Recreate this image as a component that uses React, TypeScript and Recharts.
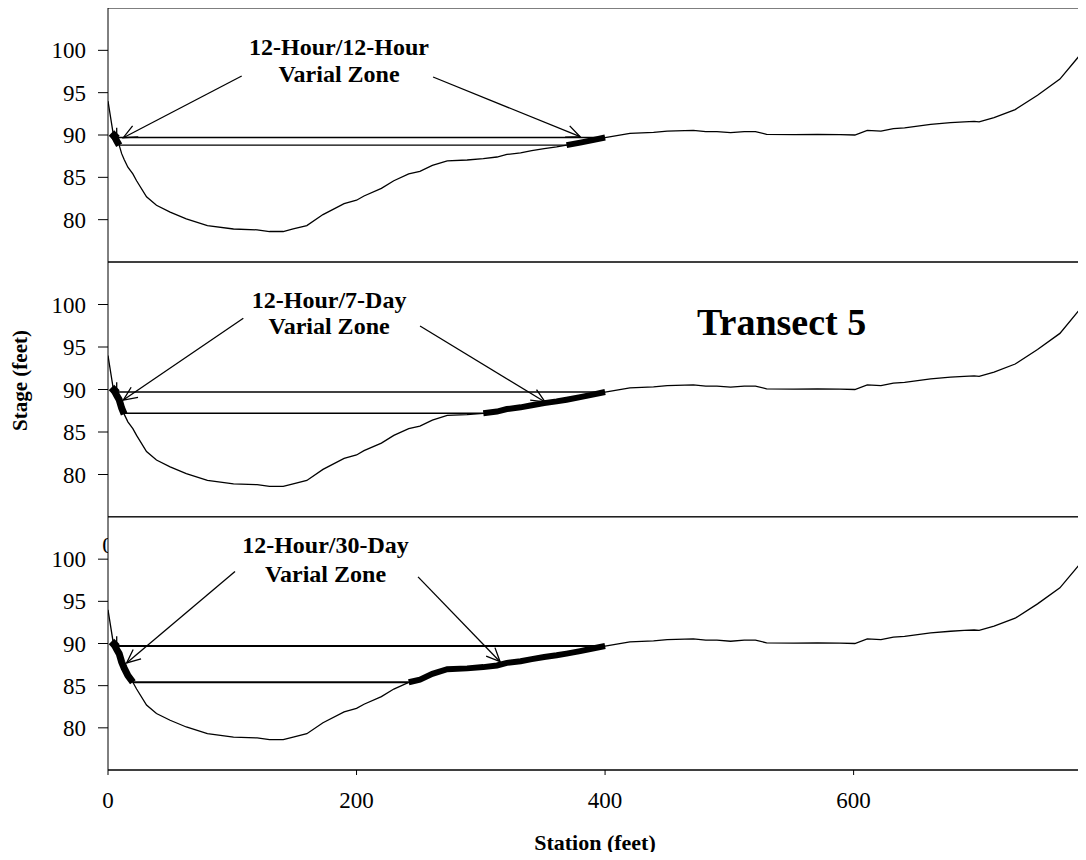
import React from 'react';
import { LineChart, Line, XAxis, YAxis, ReferenceLine, ReferenceDot, CartesianGrid, Label } from 'recharts';

// transect 5 ground profile
const stations = [
  0, 4, 5, 7, 9, 11, 13, 16, 20, 23, 31, 39, 50, 63, 80, 101, 120, 130, 141, 149, 160, 173, 190, 200,
  206, 220, 230, 242, 251, 261, 273, 289, 302, 313, 321, 332, 341, 351, 361, 369, 380, 390, 400, 420,
  439, 450, 471, 481, 490, 501, 512, 521, 530, 552, 571, 589, 601, 611, 622, 632, 641, 662, 678, 689,
  697, 701, 713, 730, 748, 766, 783, 790,
];
const stages = [
  94.0, 90.3, 89.9, 89.3, 88.8, 87.8, 87.1, 86.2, 85.4, 84.6, 82.7, 81.7, 80.9, 80.1, 79.3, 78.9, 78.8,
  78.6, 78.6, 78.9, 79.3, 80.6, 81.9, 82.3, 82.8, 83.7, 84.6, 85.4, 85.7, 86.4, 86.95, 87.05, 87.2, 87.4,
  87.7, 87.9, 88.15, 88.4, 88.6, 88.8, 89.1, 89.4, 89.7, 90.2, 90.3, 90.45, 90.55, 90.4, 90.4, 90.27,
  90.4, 90.4, 90.08, 90.04, 90.08, 90.04, 90.0, 90.55, 90.45, 90.75, 90.85, 91.25, 91.45, 91.55, 91.6,
  91.55, 92.05, 93.0, 94.7, 96.6, 99.6, 99.9,
];

const xTicks = [0, 200, 400, 600];
const yTicks = [80, 85, 90, 95, 100];

// one entry per panel
const zoneNames = ['12-Hour/12-Hour', '12-Hour/7-Day', '12-Hour/30-Day'];
const zoneHigh = [89.7, 89.7, 89.7];
const zoneLow = [88.8, 87.2, 85.4];
const leftBank = [[5, 9], [5, 13], [5, 20]];
const rightBank = [[369, 400], [302, 400], [242, 400]];
// small tick above the left-bank marker: [station, fromStage, toStage]
const markTick = [7, 89.9, 90.85];
// [fromStation, fromStage, toStation, toStage]
const leftArrows = [[107.6, 96.97, 12.3, 89.68], [108.9, 98.38, 12.3, 88.76], [102.2, 98.53, 15.0, 87.69]];
const rightArrows = [[261.6, 96.85, 379.9, 89.8], [251.1, 97.47, 351.7, 88.53], [249.5, 97.9, 315.5, 87.84]];
// [centerStation, line1Stage, line2Stage]
const labelPos = [[185.9, 99.45, 96.3], [177.9, 99.55, 96.53], [175, 100.7, 97.34]];

const panels = [
  { top: 8, bottom: 262 },
  { top: 262, bottom: 517 },
  { top: 517, bottom: 770 },
];

const FONT = '"Liberation Serif", "Times New Roman", serif';
const profile = stations.map((s, i) => ({ station: s, stage: stages[i] }));

const Arrow = (p: any) => {
  const { x1, y1, x2, y2 } = p;
  const ang = Math.atan2(y1 - y2, x1 - x2);
  const len = 15;
  const spread = 0.42;
  const a = [x2 + len * Math.cos(ang + spread), y2 + len * Math.sin(ang + spread)];
  const b = [x2 + len * Math.cos(ang - spread), y2 + len * Math.sin(ang - spread)];
  return (
    <g>
      <line x1={x1} y1={y1} x2={x2} y2={y2} stroke="#000" strokeWidth={1.3} />
      <polyline points={`${a[0]},${a[1]} ${x2},${y2} ${b[0]},${b[1]}`} fill="none" stroke="#000" strokeWidth={1.3} />
    </g>
  );
};

const textShape = (txt: string, size: number, anchor: string) => (p: any) => (
  <text x={p.cx} y={p.cy} textAnchor={anchor} fontSize={size} fontWeight="bold" fontFamily={FONT} fill="#000">
    {txt}
  </text>
);

// diamond marker on the first point of the left-bank segment
const FirstDiamond = (p: any) => {
  if (p.index !== 0) return <g key={p.key} />;
  const { cx, cy } = p;
  const s = 5.5;
  return <path key={p.key} d={`M${cx - s},${cy} L${cx},${cy - s} L${cx + s},${cy} L${cx},${cy + s} Z`} fill="#000" />;
};

const Panel: React.FC<{ idx: number }> = ({ idx }) => {
  const p = panels[idx];
  const last = idx === 2;
  const xh = last ? 60 : 1;
  const lb = leftBank[idx];
  const rb = rightBank[idx];
  const inRange = (r: number[]) => profile.filter((d) => d.station >= r[0] && d.station <= r[1]);
  const la = leftArrows[idx];
  const ra = rightArrows[idx];
  const lp = labelPos[idx];

  return (
    <div style={{ position: 'absolute', left: 0, top: 0 }}>
      <LineChart width={1086} height={860} margin={{ top: p.top, right: 0, left: 0, bottom: 860 - p.bottom - xh }}>
        {last && <CartesianGrid fill="#fff" horizontal={false} vertical={false} />}
        <XAxis
          type="number"
          dataKey="station"
          domain={[0, 787]}
          allowDataOverflow
          ticks={last ? xTicks : [0]}
          height={xh}
          tickSize={last ? 5 : 0}
          tickMargin={last ? 17 : 20}
          tickLine={last ? { stroke: '#000' } : false}
          axisLine={{ stroke: '#000' }}
          tick={idx === 0 ? false : { fontSize: 23, fill: '#000', fontFamily: FONT }}
        >
          {last && (
            <Label
              content={(lp2: any) => {
                const vb = lp2.viewBox;
                return (
                  <text x={vb.x + vb.width / 2 - 2} y={vb.y + 80} textAnchor="middle" fontSize={22} fontWeight="bold" fontFamily={FONT} fill="#000">
                    Station (feet)
                  </text>
                );
              }}
            />
          )}
        </XAxis>
        <YAxis
          type="number"
          domain={[75, 105]}
          ticks={yTicks}
          width={108}
          tickSize={10}
          tickMargin={12}
          axisLine={{ stroke: '#000' }}
          tickLine={{ stroke: '#000' }}
          tick={{ fontSize: 23, fill: '#000', fontFamily: FONT }}
        >
          {idx === 1 && (
            <Label
              content={(lp2: any) => {
                const vb = lp2.viewBox;
                const cy = vb.y + vb.height / 2 - 9;
                return (
                  <text x={27} y={cy} transform={`rotate(-90 27 ${cy})`} textAnchor="middle" fontSize={21} fontWeight="bold" fontFamily={FONT} fill="#000">
                    Stage (feet)
                  </text>
                );
              }}
            />
          )}
        </YAxis>
        {idx !== 1 && <ReferenceLine y={105} stroke="#000" strokeWidth={1} />}
        <ReferenceLine y={75} stroke="#000" strokeWidth={1} />

        <ReferenceLine
          segment={[{ x: lb[0], y: zoneHigh[idx] }, { x: rb[1], y: zoneHigh[idx] }]}
          stroke="#000"
          strokeWidth={last ? 2 : 1.4}
        />
        <ReferenceLine
          segment={[{ x: lb[1], y: zoneLow[idx] }, { x: rb[0], y: zoneLow[idx] }]}
          stroke="#000"
          strokeWidth={last ? 2 : 1.4}
        />
        <ReferenceLine
          segment={[{ x: markTick[0], y: markTick[1] }, { x: markTick[0], y: markTick[2] }]}
          stroke="#000"
          strokeWidth={1.3}
        />

        <Line data={profile} dataKey="stage" stroke="#000" strokeWidth={1.3} dot={false} isAnimationActive={false} />
        <Line data={inRange(lb)} dataKey="stage" stroke="#000" strokeWidth={7} dot={FirstDiamond} isAnimationActive={false} />
        <Line data={inRange(rb)} dataKey="stage" stroke="#000" strokeWidth={6} dot={false} isAnimationActive={false} />

        <ReferenceLine segment={[{ x: la[0], y: la[1] }, { x: la[2], y: la[3] }]} shape={Arrow} />
        <ReferenceLine segment={[{ x: ra[0], y: ra[1] }, { x: ra[2], y: ra[3] }]} shape={Arrow} />

        <ReferenceDot x={lp[0]} y={lp[1]} r={0} shape={textShape(zoneNames[idx], 24, 'middle')} />
        <ReferenceDot x={lp[0]} y={lp[2]} r={0} shape={textShape('Varial Zone', 24, 'middle')} />
        {idx === 1 && <ReferenceDot x={474} y={96.41} r={0} shape={textShape('Transect 5', 38, 'start')} />}
      </LineChart>
    </div>
  );
};

export default function App() {
  return (
    <div style={{ position: 'relative', width: 1086, height: 860, margin: -8, background: '#fff', fontFamily: FONT, overflow: 'hidden' }}>
      <Panel idx={0} />
      <Panel idx={1} />
      <Panel idx={2} />
    </div>
  );
}
